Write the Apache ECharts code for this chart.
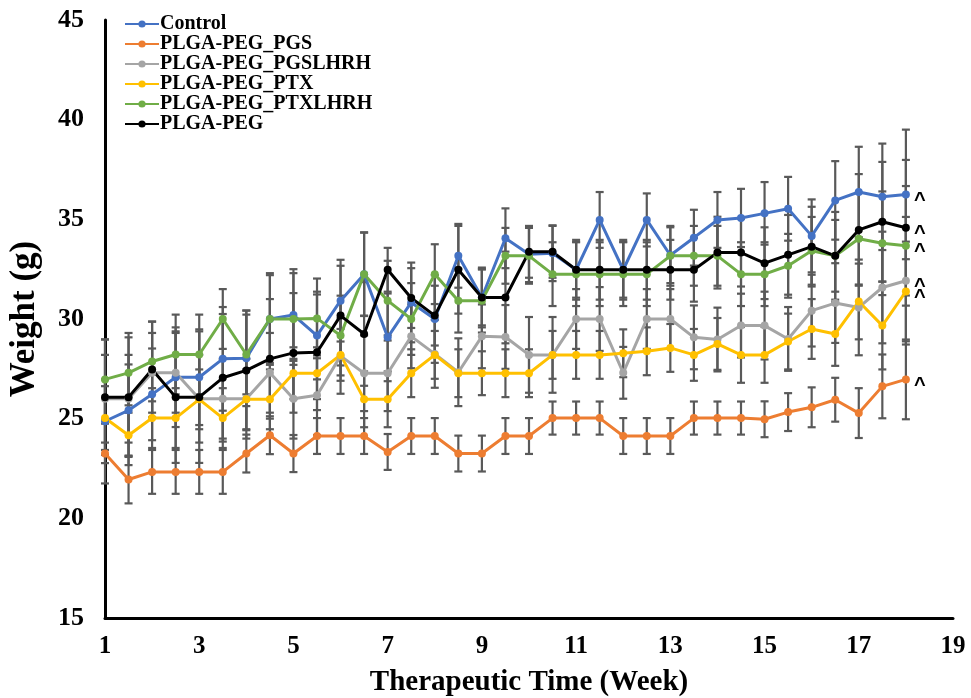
<!DOCTYPE html>
<html>
<head>
<meta charset="utf-8">
<script src="https://cdn.jsdelivr.net/npm/echarts@6/dist/echarts.min.js"></script>
<style>
  html, body { margin: 0; padding: 0; background: #ffffff; }
  #chart { width: 971px; height: 698px; }
</style>
</head>
<body>
<div id="chart"></div>
<script>
// Therapeutic time in weeks (one category every half week)
const weeks = ['1','1.5','2','2.5','3','3.5','4','4.5','5','5.5','6','6.5','7','7.5','8','8.5','9','9.5','10',
  '10.5','11','11.5','12','12.5','13','13.5','14','14.5','15','15.5','16','16.5','17','17.5','18','18.5','19'];

const yTicks = { min: 15, max: 45, step: 5 };

// Mean body weight (g) per group
const control = [24.87,25.42,26.22,27.08,27.08,28.0,28.03,30.0,30.2,29.17,30.92,32.25,29.08,30.83,30.0,33.17,31.08,34.05,33.25,33.3,32.47,34.97,32.47,34.97,33.2,34.08,34.97,35.07,35.3,35.53,34.17,35.95,36.37,36.13,36.25];
const pgs = [23.25,21.95,22.33,22.33,22.33,22.33,23.25,24.17,23.25,24.13,24.13,24.13,23.33,24.13,24.13,23.25,23.25,24.13,24.13,25.03,25.03,25.03,24.13,24.13,24.13,25.03,25.03,25.03,24.97,25.33,25.57,25.95,25.28,26.62,26.97];
const pgsLhrh = [26.0,26.0,27.3,27.3,26.0,26.0,26.0,27.3,26.0,26.17,28.15,27.28,27.28,29.13,28.25,27.33,29.13,29.1,28.2,28.2,30.0,30.0,27.3,30.0,30.0,29.08,28.97,29.67,29.67,29.0,30.42,30.8,30.58,31.58,31.92];
const ptx = [25.03,24.17,25.03,25.03,25.97,25.03,25.97,25.97,27.28,27.28,28.2,25.97,25.97,27.28,28.2,27.28,27.28,27.28,27.28,28.2,28.2,28.2,28.28,28.38,28.55,28.2,28.75,28.2,28.2,28.87,29.5,29.25,30.88,29.67,31.38];
const ptxLhrh = [26.97,27.3,27.87,28.22,28.22,30.0,28.22,30.0,30.0,30.03,29.17,32.25,30.92,30.0,32.25,30.92,30.92,33.17,33.17,32.25,32.25,32.25,32.25,32.25,33.17,33.17,33.17,32.25,32.25,32.67,33.42,33.17,34.03,33.8,33.67];
const plgaPeg = [26.08,26.08,27.47,26.08,26.08,27.05,27.42,28.0,28.3,28.33,30.17,29.25,32.47,31.05,30.17,32.47,31.08,31.08,33.37,33.37,32.47,32.47,32.47,32.47,32.47,32.47,33.33,33.33,32.8,33.22,33.63,33.17,34.47,34.88,34.58];

// Standard deviation (g) per group
const controlSd = [2.1,2.3,2.3,2.5,2.4,2.6,2.4,2.3,2.3,2.2,2.05,2.08,2.2,2.0,2.2,1.6,1.5,1.5,1.4,1.4,1.4,1.4,1.4,1.33,1.4,1.4,1.4,1.46,1.57,1.6,1.83,1.97,2.27,2.67,3.25];
const pgsSd = [1.5,1.2,1.1,1.1,1.1,1.1,0.95,0.95,0.93,0.9,0.9,0.9,0.9,0.9,0.9,0.9,0.9,0.9,0.9,0.83,0.83,0.83,0.9,0.9,0.9,0.83,0.83,0.83,0.9,0.95,1.0,1.1,1.25,1.6,2.0];
const pgsLhrhSd = [2.2,2.2,2.0,2.0,2.2,2.0,2.0,2.0,2.0,2.0,1.9,1.9,1.9,1.6,1.7,1.7,1.6,1.6,1.9,1.9,1.5,1.6,1.3,1.5,1.5,1.6,1.6,1.6,1.7,1.6,1.8,2.0,2.4,2.8,3.2];
const ptxSd = [1.6,1.5,1.5,1.5,1.5,1.5,1.5,1.5,1.3,1.3,1.3,1.4,1.4,1.2,1.2,1.2,1.1,1.2,1.2,1.2,1.2,1.2,1.2,1.2,1.2,1.3,1.3,1.4,1.4,1.4,1.5,1.6,1.9,2.2,2.5];
const ptxLhrhSd = [2.0,2.0,2.0,2.0,2.0,1.5,2.0,2.2,2.3,2.0,2.0,2.1,2.0,1.8,1.5,1.6,1.6,1.4,1.4,1.6,1.6,1.6,1.6,1.6,1.5,1.5,1.5,1.6,1.6,1.6,1.7,1.8,2.3,2.6,3.0];
const plgaPegSd = [2.9,3.0,2.4,3.3,3.3,3.2,3.0,3.0,3.0,2.9,2.5,2.6,1.1,1.5,1.5,2.2,1.4,2.3,1.3,1.3,1.5,1.5,1.5,1.5,1.5,1.6,1.8,1.7,1.8,2.0,2.0,2.2,2.8,3.0,3.4];

const groups = [
  { name: 'Control',          mean: control,  sd: controlSd,  color: '#4472C4' },
  { name: 'PLGA-PEG_PGS',     mean: pgs,      sd: pgsSd,      color: '#ED7D31' },
  { name: 'PLGA-PEG_PGSLHRH', mean: pgsLhrh,  sd: pgsLhrhSd,  color: '#A5A5A5' },
  { name: 'PLGA-PEG_PTX',     mean: ptx,      sd: ptxSd,      color: '#FFC000' },
  { name: 'PLGA-PEG_PTXLHRH', mean: ptxLhrh,  sd: ptxLhrhSd,  color: '#70AD47' },
  { name: 'PLGA-PEG',         mean: plgaPeg,  sd: plgaPegSd,  color: '#000000' }
];

const serif = 'Liberation Serif, Times New Roman, serif';

// Vertical error bar with caps, placed through the axis scales
function renderErrorBar(params, api) {
  const x = api.value(0);
  const lo = api.coord([x, api.value(1)]);
  const hi = api.coord([x, api.value(2)]);
  const cap = 4;
  const style = { stroke: '#595959', lineWidth: 2.2 };
  return {
    type: 'group',
    children: [
      { type: 'line', shape: { x1: lo[0], y1: lo[1], x2: hi[0], y2: hi[1] }, style },
      { type: 'line', shape: { x1: lo[0] - cap, y1: lo[1], x2: lo[0] + cap, y2: lo[1] }, style },
      { type: 'line', shape: { x1: hi[0] - cap, y1: hi[1], x2: hi[0] + cap, y2: hi[1] }, style }
    ]
  };
}

const series = [];
groups.forEach(g => {
  series.push({
    name: g.name + ' SD',
    type: 'custom',
    renderItem: renderErrorBar,
    data: g.mean.map((m, i) => [i, m - g.sd[i], m + g.sd[i]]),
    z: 1,
    silent: true
  });
});
groups.forEach(g => {
  series.push({
    name: g.name,
    type: 'line',
    data: g.mean,
    symbol: 'circle',
    symbolSize: 8,
    color: g.color,
    lineStyle: { color: g.color, width: 3 },
    itemStyle: { color: g.color },
    z: 3,
    endLabel: {
      show: true,
      formatter: '^',
      color: '#000',
      fontFamily: 'Liberation Sans, Arial, sans-serif',
      fontWeight: 'bold',
      fontSize: 20,
      distance: 8,
      offset: [0, 6]
    }
  });
});

const chart = echarts.init(document.getElementById('chart'), null, { renderer: 'canvas' });
chart.setOption({
  animation: false,
  backgroundColor: '#ffffff',
  grid: { left: 105, right: 18, top: 20, bottom: 80, containLabel: false, outerBoundsMode: 'none' },
  legend: {
    data: groups.map(g => g.name),
    orient: 'vertical',
    left: 124,
    top: 14,
    padding: 0,
    itemGap: 0,
    itemWidth: 34,
    itemHeight: 9,
    textStyle: { fontFamily: serif, fontWeight: 'bold', fontSize: 20, color: '#000', lineHeight: 19, padding: [0, 0, 0, -4] }
  },
  xAxis: {
    type: 'category',
    data: weeks,
    boundaryGap: false,
    name: 'Therapeutic Time (Week)',
    nameLocation: 'middle',
    nameGap: 50,
    nameTextStyle: { fontFamily: serif, fontWeight: 'bold', fontSize: 29, color: '#000' },
    axisLine: { lineStyle: { color: '#000', width: 3 } },
    axisTick: { show: false },
    axisLabel: { interval: 3, fontFamily: serif, fontWeight: 'bold', fontSize: 25, color: '#000', margin: 16 },
    splitLine: { show: false }
  },
  yAxis: {
    type: 'value',
    min: yTicks.min,
    max: yTicks.max,
    interval: yTicks.step,
    name: 'Weight (g)',
    nameLocation: 'middle',
    nameGap: 63,
    nameTextStyle: { fontFamily: serif, fontWeight: 'bold', fontSize: 35, color: '#000' },
    axisLine: { show: true, lineStyle: { color: '#000', width: 3 } },
    axisTick: { show: false },
    axisLabel: { fontFamily: serif, fontWeight: 'bold', fontSize: 26, color: '#000', margin: 21 },
    splitLine: { show: false }
  },
  series
});
</script>
</body>
</html>
